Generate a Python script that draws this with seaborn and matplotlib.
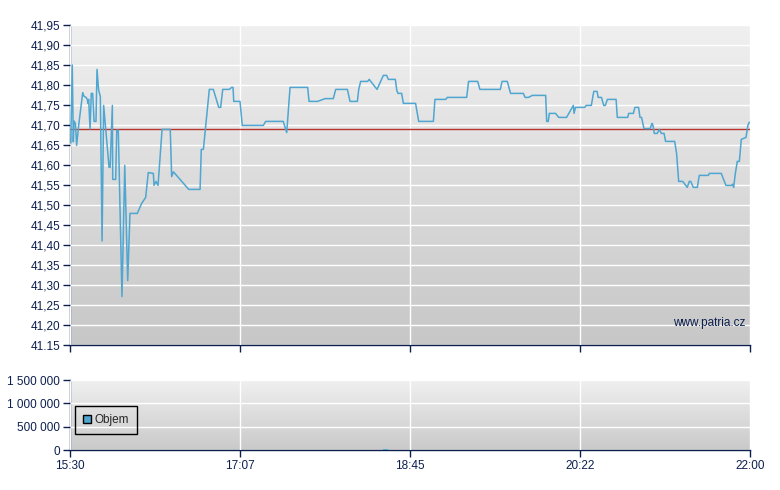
import numpy as np
import pandas as pd
import seaborn as sns
import matplotlib.pyplot as plt
from matplotlib.patches import Patch

# minutes after 15:30 and last price
minutes = [0.4, 1.3, 1.9, 2.3, 3.1, 3.8, 5.0, 7.3, 8.0, 9.2, 9.9, 10.3, 10.7, 11.5, 12.2, 13.0,
           13.8, 14.9, 15.5, 16.4, 17.4, 18.4, 19.3, 22.4, 23.0, 24.3, 24.5, 26.2, 26.8, 27.7,
           29.8, 31.4, 33.1, 34.4, 38.6, 41.1, 43.4, 44.9, 47.8, 48.2, 49.3, 50.5, 52.8, 57.5,
           58.3, 59.3, 68.1, 74.6, 75.3, 76.5, 79.9, 82.2, 85.3, 86.4, 87.6, 91.4, 92.7, 93.5,
           93.9, 97.5, 98.8, 110.9, 112.2, 122.3, 124.3, 126.2, 136.3, 137.1, 142.0, 146.3,
           151.0, 152.4, 159.1, 160.6, 164.8, 165.6, 166.7, 170.7, 171.6, 176.1, 179.7, 181.6,
           182.6, 186.6, 187.4, 188.1, 190.2, 191.2, 198.2, 200.0, 208.4, 209.3, 215.5, 216.4,
           227.5, 228.6, 233.8, 235.1, 246.8, 247.8, 250.8, 252.7, 260.0, 261.0, 262.9, 265.2,
           272.8, 273.4, 274.3, 274.9, 278.5, 280.3, 284.8, 288.7, 289.1, 289.9, 295.2, 296.0,
           299.0, 300.4, 302.3, 302.9, 304.8, 306.1, 307.0, 308.2, 313.2, 313.9, 319.9, 320.4,
           323.1, 324.0, 326.1, 326.9, 327.8, 329.2, 332.7, 333.8, 334.3, 335.1, 336.8, 338.0,
           339.1, 340.7, 341.6, 346.8, 347.9, 349.1, 351.4, 354.0, 355.2, 356.0, 357.5, 359.8,
           360.9, 366.1, 366.7, 373.5, 376.2, 379.3, 380.1, 380.6, 381.6, 382.7, 383.9, 385.0,
           387.7, 388.8, 389.6]
price = [41.655, 41.85, 41.658, 41.71, 41.704, 41.649, 41.70, 41.781, 41.772, 41.769, 41.764,
         41.754, 41.764, 41.69, 41.779, 41.779, 41.709, 41.709, 41.839, 41.788, 41.771, 41.41,
         41.749, 41.594, 41.594, 41.749, 41.564, 41.564, 41.687, 41.687, 41.271, 41.599,
         41.311, 41.479, 41.479, 41.504, 41.519, 41.581, 41.579, 41.549, 41.559, 41.549,
         41.689, 41.689, 41.571, 41.583, 41.539, 41.539, 41.639, 41.639, 41.789, 41.789,
         41.744, 41.744, 41.789, 41.789, 41.794, 41.794, 41.759, 41.759, 41.699, 41.699,
         41.709, 41.709, 41.681, 41.794, 41.794, 41.759, 41.759, 41.766, 41.766, 41.789,
         41.789, 41.759, 41.759, 41.789, 41.809, 41.809, 41.814, 41.789, 41.824, 41.824,
         41.814, 41.814, 41.787, 41.779, 41.779, 41.754, 41.754, 41.709, 41.709, 41.764,
         41.764, 41.769, 41.769, 41.809, 41.809, 41.789, 41.789, 41.809, 41.809, 41.779,
         41.779, 41.769, 41.769, 41.774, 41.774, 41.709, 41.709, 41.729, 41.729, 41.719,
         41.719, 41.749, 41.729, 41.744, 41.744, 41.749, 41.749, 41.784, 41.784, 41.769,
         41.769, 41.749, 41.749, 41.764, 41.764, 41.719, 41.719, 41.729, 41.729, 41.744,
         41.744, 41.719, 41.719, 41.691, 41.691, 41.704, 41.700, 41.679, 41.679, 41.689,
         41.679, 41.679, 41.659, 41.659, 41.629, 41.559, 41.559, 41.544, 41.559, 41.559,
         41.544, 41.544, 41.574, 41.574, 41.579, 41.579, 41.549, 41.549, 41.552, 41.544,
         41.579, 41.609, 41.609, 41.664, 41.669, 41.699, 41.707]

prev_close = 41.69

vol_minutes = [181.0]
volume = [30000]

y_ticks = [41.15, 41.20, 41.25, 41.30, 41.35, 41.40, 41.45, 41.50, 41.55, 41.60, 41.65,
           41.70, 41.75, 41.80, 41.85, 41.90, 41.95]
y_labels = ["41.15", "41,20", "41,25", "41,30", "41,35", "41,40", "41,45", "41,50", "41,55",
            "41,60", "41,65", "41,70", "41,75", "41,80", "41,85", "41,90", "41,95"]
x_ticks = [0, 97.5, 195, 292.5, 390]
x_labels = ["15:30", "17:07", "18:45", "20:22", "22:00"]
vol_ticks = [0, 500000, 1000000, 1500000]
vol_labels = ["0", "500 000", "1 000 000", "1 500 000"]

sns.set_style("white")
plt.rcParams['font.family'] = ['Liberation Sans', 'DejaVu Sans']

navy = "#0c1f4e"
line_col = "#4ea6d1"

df = pd.DataFrame({"minute": minutes, "price": price})

fig = plt.figure(figsize=(7.8, 4.9), dpi=100)
ax = fig.add_axes([70 / 780, 1 - 345 / 490, 680 / 780, 320 / 490])
axv = fig.add_axes([70 / 780, 1 - 450 / 490, 680 / 780, 70 / 490])

grad = np.linspace(0, 1, 256).reshape(-1, 1)
for a, bottom in ((ax, 0.78), (axv, 0.79)):
    a.imshow(grad, extent=[0, 1, 0, 1], transform=a.transAxes, aspect="auto",
             cmap=plt.matplotlib.colors.LinearSegmentedColormap.from_list(
                 "g", [(0.94, 0.94, 0.94), (bottom, bottom, bottom)]), zorder=0)
    a.set_xlim(0, 390)
    a.set_xticks(x_ticks)
    a.grid(True, color="white", lw=1)
    a.set_axisbelow(False)
    for s in ("top", "right"):
        a.spines[s].set_visible(False)
    for s in ("left", "bottom"):
        a.spines[s].set_color(navy)
        a.spines[s].set_linewidth(1)
    a.tick_params(direction="out", length=5, width=1, color=navy, labelcolor=navy,
                  labelsize=8.5, left=True, bottom=True, pad=2)

ax.set_ylim(41.15, 41.95)
ax.set_yticks(y_ticks)
ax.set_yticklabels(y_labels)
ax.set_xticklabels([])
ax.axhline(prev_close, color="#b8342c", lw=1, zorder=2.6)
sns.lineplot(data=df, x="minute", y="price", ax=ax, color=line_col, lw=1.1,
             sort=False, estimator=None, zorder=3)
ax.set_xlabel("")
ax.set_ylabel("")
ax.text(0.993, 0.07, "www.patria.cz", transform=ax.transAxes, ha="right", va="center",
        color=navy, fontsize=8.5)

axv.bar(vol_minutes, volume, width=2.5, color=line_col, edgecolor="none", zorder=3)
axv.set_ylim(0, 1500000)
axv.set_yticks(vol_ticks)
axv.set_yticklabels(vol_labels)
axv.set_xticklabels(x_labels)
axv.legend(handles=[Patch(facecolor=line_col, edgecolor="black", label="Objem")],
           loc="center left", bbox_to_anchor=(0.0074, 0.43), borderaxespad=0,
           frameon=True, fancybox=False, edgecolor="black", facecolor="none",
           fontsize=8.5, handlelength=0.7, handleheight=0.7, handletextpad=0.3,
           borderpad=0.65, framealpha=1)

fig.savefig("out.png", dpi=100)
